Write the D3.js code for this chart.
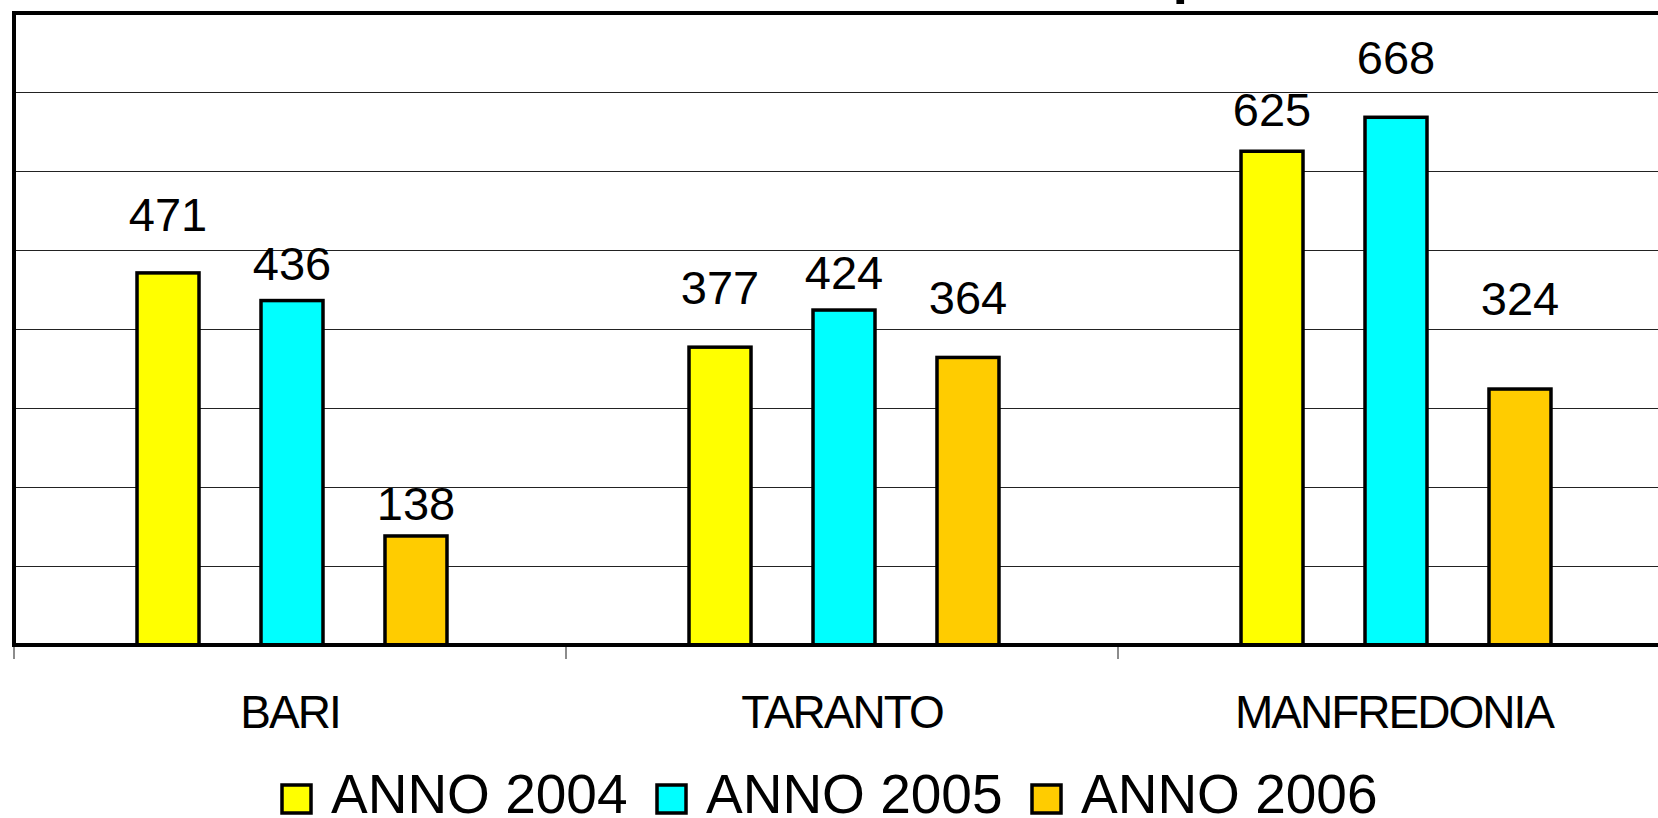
<!DOCTYPE html>
<html>
<head>
<meta charset="utf-8">
<script src="https://cdn.jsdelivr.net/npm/d3@7"></script>
<style>
  body { margin: 0; background: #fff; }
  svg { display: block; font-family: "Liberation Sans", Arial, sans-serif; }
  .grid line { stroke: #222; stroke-width: 1; }
  .grid path { display: none; }
  .cat text { font-size: 46px; letter-spacing: -2px; fill: #000; }
  .cat path { display: none; }
  .value { font-size: 47px; fill: #000; text-anchor: middle; }
  .legend text { font-size: 55px; fill: #000; }
</style>
</head>
<body>
<div class="chart-area"></div>
<script>
var categories = ["BARI", "TARANTO", "MANFREDONIA"],
    seriesNames = ["ANNO 2004", "ANNO 2005", "ANNO 2006"],
    anno2004 = [471, 377, 625],
    anno2005 = [436, 424, 668],
    anno2006 = [138, 364, 324],
    gridValues = [100, 200, 300, 400, 500, 600, 700, 800];

var colors = ["#ffff00", "#00ffff", "#ffcc00"],
    seriesValues = [anno2004, anno2005, anno2006],
    // gap in px between each value label and its bar, as in the original
    labelGap = [[42, 21, 16], [43, 21, 43], [25, 43, 74]];

var chartWidth = 1658,
    chartHeight = 818,
    plotLeft = 14,
    catWidth = 552,
    plotTop = 13,
    plotBottom = 645;

var svg = d3.select(".chart-area")
            .append("svg")
            .attr("width", chartWidth)
            .attr("height", chartHeight);

// title, mostly cut off above the picture
svg.append("text")
   .attr("x", 1297)
   .attr("y", -8)
   .attr("text-anchor", "end")
   .attr("font-size", 56)
   .attr("font-weight", "bold")
   .text("Numero di sbarchi nei tre porti");

var x = d3.scaleBand()
          .domain(categories)
          .range([plotLeft, plotLeft + catWidth * categories.length])
          .padding(0);

var xs = d3.scaleBand()
           .domain(d3.range(seriesNames.length))
           .range([2, catWidth + 2])
           .paddingInner(0.5)
           .paddingOuter(0.976);

var y = d3.scaleLinear()
          .domain([0, 800])
          .range([plotBottom, plotTop]);

svg.append("g")
   .attr("class", "grid")
   .attr("transform", "translate(" + plotLeft + ",0)")
   .call(d3.axisLeft(y).tickValues(gridValues.slice(0, -1)).tickSize(-(chartWidth - plotLeft)).tickFormat(""));

// category boundary ticks
svg.selectAll(".bound")
   .data(categories)
   .enter()
   .append("line")
   .attr("x1", function(d) { return x(d) })
   .attr("x2", function(d) { return x(d) })
   .attr("y1", plotBottom + 2)
   .attr("y2", plotBottom + 14)
   .attr("stroke", "#666")
   .attr("stroke-width", 1.5);

var groups = svg.selectAll(".group")
   .data(categories)
   .enter()
   .append("g")
   .attr("transform", function(d) { return "translate(" + x(d) + ",0)" });

function cells(d, ci) {
  return seriesValues.map(function(s, si) { return { si: si, ci: ci, v: s[ci] } });
}

groups.selectAll("rect")
   .data(cells)
   .enter()
   .append("rect")
   .attr("x", function(d) { return xs(d.si) })
   .attr("y", function(d) { return y(d.v) })
   .attr("width", xs.bandwidth())
   .attr("height", function(d) { return plotBottom - y(d.v) })
   .attr("fill", function(d) { return colors[d.si] })
   .attr("stroke", "#000")
   .attr("stroke-width", 3.5);

groups.selectAll(".value")
   .data(cells)
   .enter()
   .append("text")
   .attr("class", "value")
   .attr("x", function(d) { return xs(d.si) + xs.bandwidth() / 2 })
   .attr("y", function(d) { return y(d.v) - labelGap[d.ci][d.si] })
   .text(function(d) { return d.v });

// frame: top, left and baseline
svg.append("line").attr("x1", plotLeft).attr("x2", chartWidth).attr("y1", plotTop).attr("y2", plotTop)
   .attr("stroke", "#000").attr("stroke-width", 4);
svg.append("line").attr("x1", plotLeft).attr("x2", plotLeft).attr("y1", plotTop - 2).attr("y2", plotBottom + 2)
   .attr("stroke", "#000").attr("stroke-width", 4);
svg.append("line").attr("x1", plotLeft - 2).attr("x2", chartWidth).attr("y1", plotBottom).attr("y2", plotBottom)
   .attr("stroke", "#000").attr("stroke-width", 4);

svg.append("g")
   .attr("class", "cat")
   .attr("transform", "translate(0," + plotBottom + ")")
   .call(d3.axisBottom(x).tickSize(0).tickPadding(50));

var legend = svg.selectAll(".legend")
   .data(seriesNames)
   .enter()
   .append("g")
   .attr("class", "legend")
   .attr("transform", function(d, i) { return "translate(" + (282 + i * 375) + ",0)" });

legend.append("rect")
   .attr("x", 0)
   .attr("y", 785)
   .attr("width", 29)
   .attr("height", 28)
   .attr("fill", function(d, i) { return colors[i] })
   .attr("stroke", "#000")
   .attr("stroke-width", 3.5);

legend.append("text")
   .attr("x", 49)
   .attr("y", 813)
   .text(function(d) { return d });
</script>
</body>
</html>
